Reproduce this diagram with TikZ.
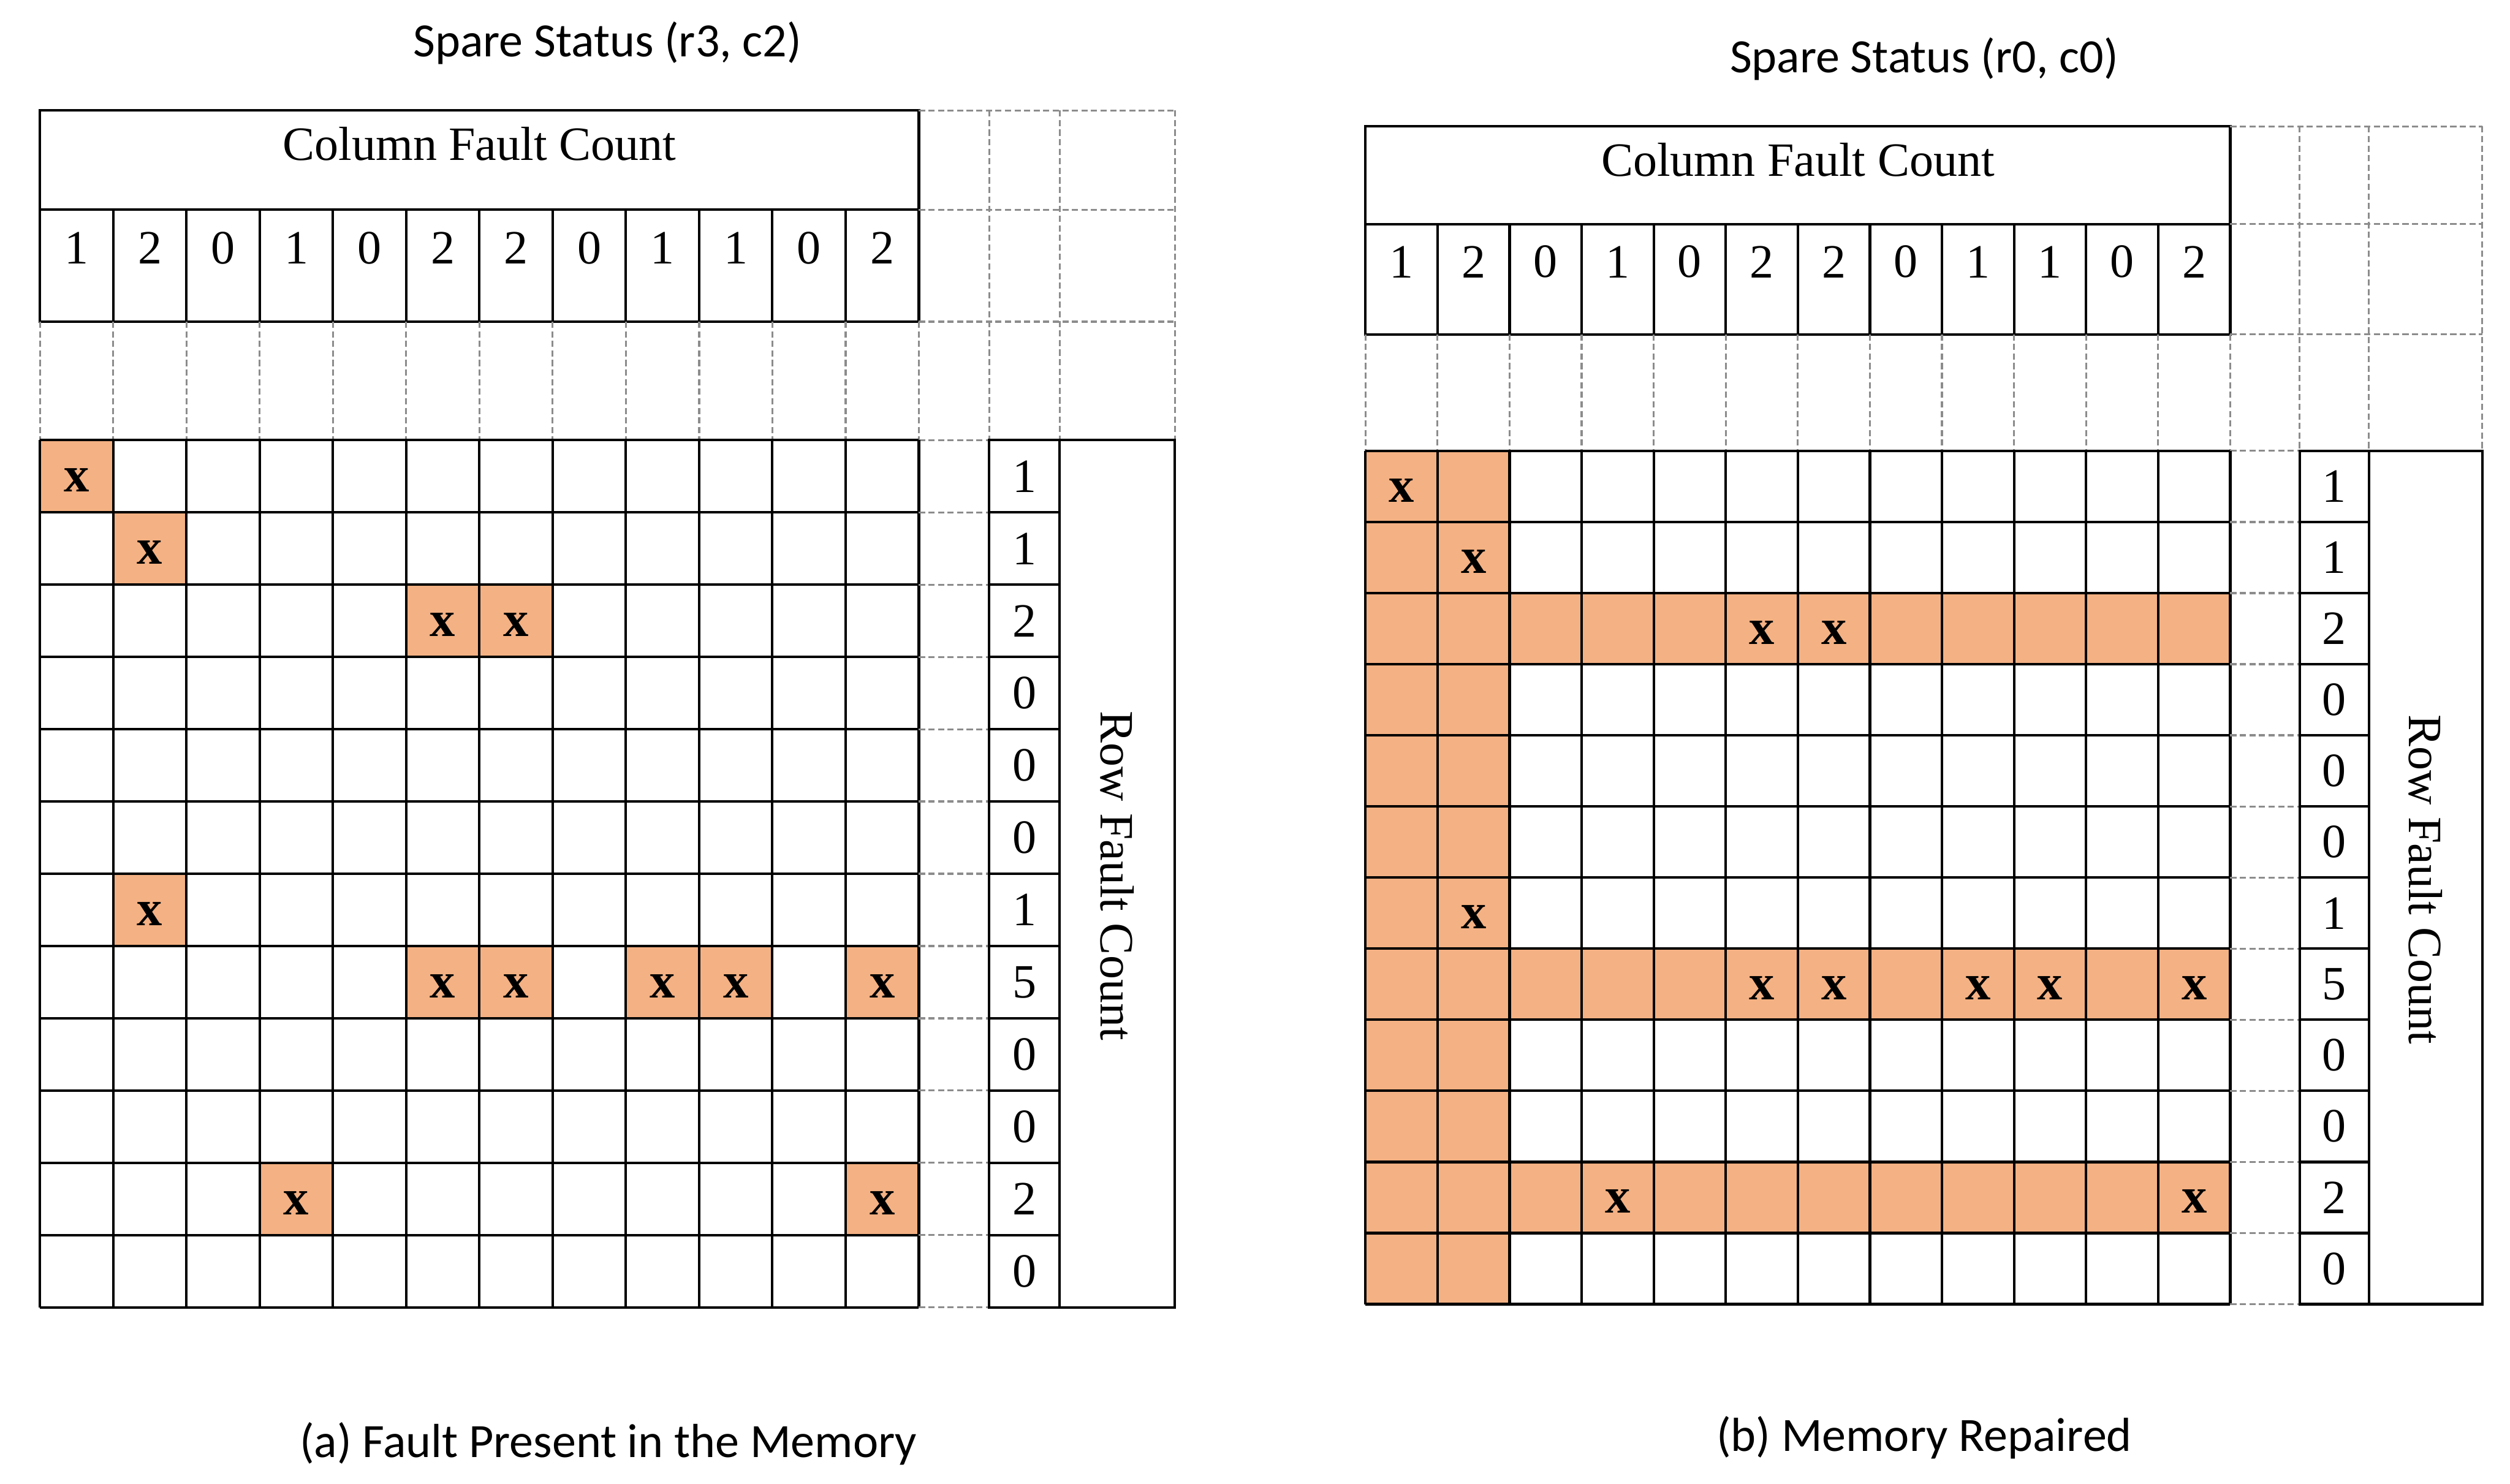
\documentclass[tikz,border=0pt]{standalone}
\usepackage{fontspec}
\setmainfont{Liberation Serif}
\newfontfamily\capfont{Carlito}
\definecolor{faultfill}{HTML}{F4B183}
\definecolor{guidegray}{HTML}{8C8C8C}

\begin{document}
\begin{tikzpicture}[line width=0.9pt,
  guide/.style={draw=guidegray,line width=0.7pt,dash pattern=on 2.2pt off 1.2pt},
  num/.style={font=\fontsize{17}{20}\selectfont},
  faultx/.style={font=\fontsize{18}{20}\selectfont\bfseries},
  titletext/.style={font=\capfont\fontsize{17}{20}\selectfont}]
\useasboundingbox (0,0) rectangle (31.36,-18.54);
% 故障位置：列/行
\newcommand{\faultlist}{1/1,2/2,6/3,7/3,2/7,6/8,7/8,9/8,10/8,12/8,4/11,12/11}
% 表格框架：列计数、备用行列、行计数
\newcommand{\memgrid}{
  % 列计数表头
  \draw (0,0) rectangle (10.98,-2.64);
  \draw (0,-1.24) -- (10.98,-1.24);
  \foreach \i in {1,...,11} \draw ({\i*0.915},-1.24) -- ({\i*0.915},-2.64);
  \node[num] (colhead) at (5.49,-0.42) {Column Fault Count};
  \foreach \v [count=\i] in {1,2,0,1,0,2,2,0,1,1,0,2}
    \node[num] (col\i) at ({(\i-0.5)*0.915},-1.72) {\v};
  % 备用行（虚线）
  \foreach \i in {0,...,12} \draw[guide] ({\i*0.915},-2.64) -- ({\i*0.915},-4.12);
  \foreach \y in {0,-1.24,-2.64} \draw[guide] (10.98,\y) -- (14.18,\y);
  \foreach \x in {11.86,12.74,14.18} \draw[guide] (\x,0) -- (\x,-4.12);
  \draw[guide] (10.98,-4.12) -- (11.86,-4.12);
  % 存储阵列
  \foreach \i in {0,...,12} \draw ({\i*0.915},-4.12) -- ({\i*0.915},-14.956);
  \foreach \j in {0,...,12} \draw (0,{-4.12-\j*0.903}) -- (10.98,{-4.12-\j*0.903});
  % 备用列（虚线）
  \foreach \j in {1,...,12} \draw[guide] (10.98,{-4.12-\j*0.903}) -- (11.86,{-4.12-\j*0.903});
  % 行计数
  \draw (11.86,-4.12) rectangle (12.74,-14.956);
  \foreach \j in {1,...,11} \draw (11.86,{-4.12-\j*0.903}) -- (12.74,{-4.12-\j*0.903});
  \foreach \v [count=\j] in {1,1,2,0,0,0,1,5,0,0,2,0}
    \node[num] (row\j) at (12.30,{-4.12-(\j-0.5)*0.903}) {\v};
  \draw (12.74,-4.12) rectangle (14.18,-14.956);
  \node[num,rotate=-90] (rowhead) at (13.46,-9.56) {Row Fault Count};
}
% ---------- (a) 存在故障 ----------
\begin{scope}[shift={(0.5,-1.38)},name prefix=a-]
\foreach \c/\r in \faultlist
  \fill[faultfill] ({(\c-1)*0.915},{-4.12-(\r-1)*0.903}) rectangle ({\c*0.915},{-4.12-\r*0.903});
\memgrid
\foreach \c/\r in \faultlist
  \node[faultx] (x-\c-\r) at ({(\c-0.5)*0.915},{-4.17-(\r-0.5)*0.903}) {x};
\end{scope}
% ---------- (b) 修复后 ----------
\begin{scope}[shift={(17.06,-1.58)},scale=0.984,name prefix=b-]
\fill[faultfill] (0,-4.12) rectangle (1.83,-14.956);
\foreach \r in {3,8,11}
  \fill[faultfill] (0,{-4.12-(\r-1)*0.903}) rectangle (10.98,{-4.12-\r*0.903});
\memgrid
\foreach \c/\r in \faultlist
  \node[faultx] (x-\c-\r) at ({(\c-0.5)*0.915},{-4.17-(\r-0.5)*0.903}) {x};
\end{scope}
% 标题
\node[titletext] (titleA) at (7.59,-0.54) {Spare Status (r3, c2)};
\node[titletext] (titleB) at (24.04,-0.74) {Spare Status (r0, c0)};
\node[titletext] (capA) at (7.60,-18.04) {(a) Fault Present in the Memory};
\node[titletext] (capB) at (24.04,-17.96) {(b) Memory Repaired};
\end{tikzpicture}
\end{document}
